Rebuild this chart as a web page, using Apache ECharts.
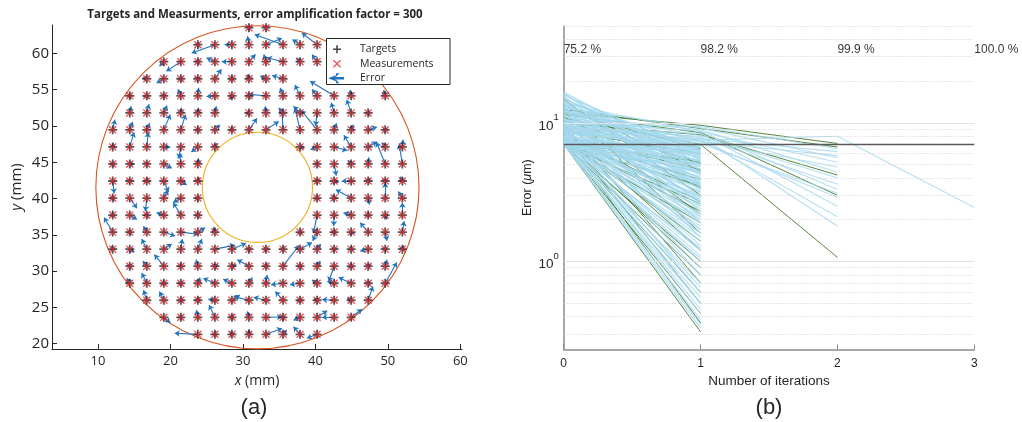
<!DOCTYPE html>
<html>
<head>
<meta charset="utf-8">
<script src="https://cdn.jsdelivr.net/npm/echarts@6/dist/echarts.min.js"></script>
<style>
html, body { margin: 0; padding: 0; background: #fff; }
#main { width: 1022px; height: 422px; }
</style>
</head>
<body>
<div id="main"></div>
<script>
// ---- panneau (a) : grille des cibles, en mm ----
var gridX = [12.03, 14.38, 16.73, 19.08, 21.43, 23.78, 26.13, 28.48, 30.83, 33.18, 35.53, 37.88, 40.23, 42.58, 44.93, 47.28, 49.63, 52.0];
var gridY = [21.29, 23.64, 25.99, 28.33, 30.68, 33.03, 35.38, 37.73, 40.07, 42.42, 44.77, 47.12, 49.47, 51.81, 54.16, 56.51, 58.86, 61.21, 63.55];

// colonnes presentes pour chaque ligne (de bas en haut)
var rowCols = [
	[5, 6, 7, 8, 9, 10, 11, 12],
	[3, 4, 5, 6, 7, 8, 9, 10, 11, 12, 13, 14],
	[2, 3, 4, 5, 6, 7, 8, 9, 10, 11, 12, 13, 14, 15],
	[1, 2, 3, 4, 5, 6, 7, 8, 9, 10, 11, 12, 13, 14, 15, 16],
	[1, 2, 3, 4, 5, 6, 7, 8, 9, 10, 11, 12, 13, 14, 15, 16],
	[0, 1, 2, 3, 4, 5, 6, 7, 8, 9, 10, 11, 12, 13, 14, 15, 16, 17],
	[0, 1, 2, 3, 4, 5, 6, 11, 12, 13, 14, 15, 16, 17],
	[0, 1, 2, 3, 4, 5, 12, 13, 14, 15, 16, 17],
	[0, 1, 2, 3, 4, 5, 12, 13, 14, 15, 16, 17],
	[0, 1, 2, 3, 4, 5, 12, 13, 14, 15, 16, 17],
	[0, 1, 2, 3, 4, 5, 12, 13, 14, 15, 16, 17],
	[0, 1, 2, 3, 4, 5, 6, 11, 12, 13, 14, 15, 16, 17],
	[0, 1, 2, 3, 4, 5, 6, 7, 8, 9, 10, 11, 12, 13, 14, 15, 16],
	[1, 2, 3, 4, 5, 6, 8, 9, 10, 11, 12, 13, 14, 15],
	[1, 2, 3, 4, 5, 6, 7, 8, 9, 10, 11, 12, 13, 14, 16],
	[2, 3, 4, 5, 6, 7, 8, 9, 10],
	[3, 4, 5, 6, 7, 8, 9, 10, 11, 12],
	[5, 6, 7, 8, 9, 10, 11, 12],
	[8, 9]
];

// erreur amplifiee (x300) pour chaque point, [dx, dy] en mm
var errRows = [
	[[-3.2, 0.15], [0.2, -0.3], [-0.3, 0.4], [0, 0.7], [2.2, 0.8], [0.5, 0.6], [-0.9, 1.05], [-1.4, -0.55]],
	[[0.9, -0.75], [0.2, 0.3], [-0.2, 1.0], [-0.8, 1.7], [0.1, -0.3], [-0.2, 0.8], [2.2, 0.05], [0.3, 0.2], [-0.9, -0.4], [1.4, 0.9], [-1.65, 0], [1.5, 1.1]],
	[[-0.45, 1.4], [-0.6, 1.2], [0.3, -0.3], [0.2, 0.4], [-0.9, 0.15], [1.1, 0.7], [-2.1, 0.5], [-1.7, 0.4], [-1.05, 1.2], [0.3, -0.2], [-0.4, 0.3], [-1.65, 0.1], [-0.55, 0.3], [0.65, 1.9]],
	[[-0.4, 0.7], [-0.7, 1.4], [0.3, -0.2], [0.2, 0.3], [0.3, 0.8], [-1.6, 0.7], [-1.2, 0.55], [0.45, 0.8], [0.15, 1.15], [-1.65, -0.2], [-1.4, -0.2], [-0.7, 0.45], [-0.95, 0.25], [-1.7, 0.8], [0.3, 0.3], [1.6, 2.85]],
	[[0.3, 0.3], [-0.55, 0.7], [-1.3, 1.6], [0.2, -0.2], [-0.25, 0.9], [0.4, 0.3], [0.6, 0.2], [-1.6, 0.9], [0.2, -0.3], [2.2, 2.85], [0.2, 0.3], [0.45, 0.7], [-0.75, -2.1], [0.3, -0.2], [0.4, 0.3], [0.25, 0.9]],
	[[-0.2, 0.4], [0.65, -0.4], [-0.7, 1.4], [1.1, 0.7], [0.2, 1.4], [0.55, 1.4], [2.75, 0.55], [1.95, 0.8], [0.3, 0.2], [-0.2, 0.3], [0.2, -0.3], [1.65, 0.9], [0.5, 0.7], [-0.3, 0.2], [0.1, 0.4], [-1.1, -0.25], [0.3, 0.2], [0.2, 0.5]],
	[[-1.2, 2.0], [0.2, 0.3], [-0.45, 0.8], [1.55, -0.55], [2.4, -0.3], [1.0, 0.6], [-0.2, 0.7], [0.3, -0.3], [-0.6, -1.2], [0.2, 0.3], [-0.1, 0.2], [-1.1, 1.3], [0.25, -1.2], [0.25, 1.5]],
	[[0.3, -0.2], [1.0, -0.6], [0.2, 0.3], [-1.0, 0.3], [-1.05, 1.7], [0.2, 0.3], [-0.5, -2.5], [-0.05, -1.5], [-1.05, 0.3], [0.3, -0.2], [0.25, -0.6], [0, 1.7]],
	[[0.2, 0.3], [1.0, -1.4], [-0.2, -1.8], [0.6, 1.1], [-1.05, -0.6], [0.2, 0.2], [0.3, -0.2], [-0.2, 0.4], [-2.1, 1.15], [0.2, -0.9], [0, 2.1], [-0.55, 0.9]],
	[[0.2, -1.7], [0.3, 0.2], [0, 0.4], [0.65, -1.5], [0.8, -0.55], [0.2, 0.5], [-0.3, 0.3], [0.6, -0.2], [-1.3, 0], [0.3, 0.4], [0, -0.3], [-0.3, 0.6]],
	[[0.2, 0.3], [0.7, 0], [0.3, 0.2], [1.1, -0.6], [-0.15, 1.5], [0.1, 0.8], [0.2, 0.3], [0.3, -1.6], [-0.4, 0.5], [0.1, 0.9], [-1.2, 3.0], [-0.45, 2.7]],
	[[0.1, 0.5], [0.6, 2.0], [0.2, 2.0], [0.9, 0], [-0.3, -1.6], [-0.9, -0.7], [0.3, 0.5], [0.6, -0.2], [-0.9, -0.4], [1.8, -0.5], [-1.0, 1.6], [1.2, 0.7], [-0.4, 0.6], [0.1, 1.0]],
	[[0.3, 1.4], [0.4, 1.1], [0.4, 0.9], [0.9, 2.1], [0.65, 2.1], [0.2, 0.3], [0.7, 0.7], [0.2, -0.2], [1.1, 1.6], [1.75, 1.15], [-0.15, 2.8], [-0.7, 3.0], [-2.2, 2.7], [0.35, 0.9], [0.3, 0.7], [1.2, 0.4], [-0.3, 0.3]],
	[[0.2, 0.9], [0.3, 1.2], [0.45, 1.0], [0.1, 0.7], [0.1, 0.7], [0.2, 0.9], [-0.5, 0], [-0.1, 0.9], [-0.6, 0.7], [-0.9, 0.9], [-0.2, -1.8], [-0.4, 1.4], [-0.6, 1.8], [0.2, 0.3]],
	[[0.2, 0.3], [0.1, 0.3], [0.3, 0.2], [-0.4, 0.9], [0.1, 1.1], [-1.15, -0.1], [-0.3, -0.5], [0.2, 0.3], [-2.4, 0.2], [-0.4, 1.1], [-0.7, 1.5], [-0.7, 0.9], [-3.3, 2.0], [-0.15, 0.8], [-0.2, 0.8]],
	[[-0.6, 0.1], [-1.0, -0.6], [0.2, 0.3], [0.3, 0.2], [0.9, 1.3], [0.3, -0.2], [-0.2, 0.6], [-0.8, 0.4], [-1.5, 0.45]],
	[[-0.6, -0.6], [-2.0, -1.3], [0.2, 0.3], [-1.15, 0.55], [-1.4, 0], [0.9, 1.0], [-0.3, 1.0], [-2.2, 0.55], [-0.5, 0.55], [-0.7, 1.0]],
	[[0.2, 0.3], [-3.2, -1.15], [-1.0, 0], [-0.2, 1.15], [2.2, 0.9], [-3.9, 1.4], [-1.05, 0.7], [-2.1, 1.6]],
	[[0, -0.4], [0.3, 0.2]]
];

var circleCenter = [32.0, 41.55];
var circleRadii = [22.3, 7.6];
var xTicksA = [10, 20, 30, 40, 50, 60];
var yTicksA = [20, 25, 30, 35, 40, 45, 50, 55, 60];

// ---- panneau (b) : erreur par iteration, [debut, fin] en um ----
var blueIt01 = [
	[16.7, 5.0], [16.2, 4.2], [15.8, 6.1], [15.4, 3.3], [15.0, 5.4], [14.6, 2.6], [14.3, 6.6], [14.0, 4.8], [13.8, 8.6], [13.6, 3.9],
	[13.3, 7.3], [13.0, 5.8], [12.8, 9.2], [12.7, 2.1], [12.4, 6.9], [12.2, 4.4], [11.9, 8.1], [11.6, 3.1], [11.4, 5.2], [11.3, 8.9],
	[11.1, 7.6], [10.9, 1.7], [10.7, 6.3], [10.6, 7.8], [10.5, 4.0], [10.3, 8.7], [10.1, 2.8], [10.0, 7.3], [9.9, 5.6], [9.8, 9.4],
	[9.7, 7.1], [9.6, 3.6], [9.5, 7.5], [9.4, 1.3], [9.3, 6.0], [9.2, 8.4], [9.1, 4.6], [9.0, 8.0], [8.9, 2.4], [8.8, 5.0],
	[8.7, 7.7], [8.6, 0.9], [8.5, 6.6], [8.4, 3.2], [8.3, 7.4], [8.2, 1.9], [8.1, 4.3], [8.0, 5.7],
	[7.9, 0.65], [7.85, 2.2], [7.8, 3.8], [7.7, 6.2], [7.65, 1.1], [7.6, 4.9], [7.5, 0.45], [7.45, 2.9], [7.4, 6.8], [7.35, 1.5],
	[7.3, 3.4], [7.25, 0.8], [7.2, 5.4], [7.15, 2.5], [7.12, 0.55], [7.1, 4.1], [7.08, 1.25], [7.05, 6.4], [7.03, 0.38], [7.02, 3.0],
	[7.01, 1.8], [7.0, 0.33], [7.0, 2.0], [7.0, 4.5], [7.0, 1.05], [7.0, 0.7],
	[16.4, 3.6], [16.0, 5.6], [15.6, 2.9], [15.2, 4.6], [14.8, 6.4], [14.4, 3.5], [14.1, 2.3], [13.9, 5.2], [13.5, 6.3], [13.2, 1.9],
	[12.9, 3.7], [12.6, 5.5], [12.3, 2.7], [12.0, 6.8], [11.8, 1.5], [11.5, 4.2], [11.2, 6.0], [11.0, 2.5], [10.8, 3.5], [10.6, 5.0],
	[10.4, 1.2], [10.2, 6.7], [10.0, 3.3], [9.85, 4.4], [9.75, 2.0], [9.65, 5.3], [9.55, 0.8], [9.45, 6.3], [9.35, 2.9], [9.25, 4.0],
	[9.15, 1.6], [9.05, 5.9], [8.95, 3.5], [8.85, 0.6], [8.75, 4.8], [8.65, 2.2], [8.55, 6.9], [8.45, 1.4], [8.35, 3.9], [8.25, 5.3],
	[8.15, 0.5], [8.05, 2.6], [7.95, 4.4], [7.88, 1.0], [7.82, 5.9], [7.75, 2.7], [7.68, 0.42], [7.62, 3.2], [7.55, 1.7], [7.48, 5.0],
	[7.42, 0.6], [7.38, 3.7], [7.32, 2.1], [7.28, 6.0], [7.22, 1.2], [7.18, 4.4], [7.14, 0.35], [7.1, 2.8], [7.06, 5.0], [7.04, 1.6],
	[7.02, 0.5], [7.01, 3.6]
];
var greenIt01 = [
	[14.8, 3.0], [13.5, 4.5], [12.9, 1.6], [12.5, 9.1], [12.0, 6.5], [11.8, 9.6], [11.5, 8.5], [11.2, 2.2], [10.8, 7.0], [10.4, 5.1],
	[9.9, 8.2], [9.8, 0.7], [9.5, 3.4], [9.0, 1.2], [8.7, 6.0], [8.4, 0.5], [8.2, 2.7], [8.0, 4.6], [7.9, 0.36], [7.7, 1.4],
	[7.6, 3.9], [7.5, 0.9], [7.4, 2.3], [7.3, 0.6], [7.2, 5.2], [7.1, 1.9], [7.05, 0.42], [7.02, 0.31], [7.0, 3.5], [7.0, 1.0],
	[7.0, 0.8], [7.0, 2.6]
];
var blueIt12 = [
	[9.4, 6.5], [9.2, 5.6], [8.9, 4.4], [8.7, 3.3], [8.6, 5.2], [8.4, 2.5], [8.1, 4.0], [8.0, 1.8], [7.8, 3.6], [7.7, 6.2],
	[7.6, 2.1], [7.5, 8.0], [7.4, 4.8], [7.3, 2.9], [7.3, 5.8], [7.1, 3.1]
];
var greenIt12 = [[9.6, 7.1], [9.1, 6.7], [8.5, 3.0], [8.2, 4.2], [7.0, 1.07]];
var blueIt23 = [[8.0, 2.45]];

var convPct = ['75.2 %', '98.2 %', '99.9 %', '100.0 %'];
var iterTicks = [0, 1, 2, 3];
var thresholdErr = 7.0;
var majorGrid = [1, 10];
var minorGrid = [0.3, 0.4, 0.5, 0.6, 0.7, 0.8, 0.9, 2, 3, 4, 5, 6, 7, 8, 9, 20, 30, 40, 50];

// ---- construction des donnees ----
var targets = [];
var arrows = [];
for (var j = 0; j < rowCols.length; j++) {
	for (var k = 0; k < rowCols[j].length; k++) {
		var px = gridX[rowCols[j][k]];
		var py = gridY[j];
		var e = errRows[j][k] || [0, 0];
		targets.push([px, py]);
		arrows.push({ coords: [[px, py], [px + e[0], py + e[1]]] });
	}
}

function segments(pairs, x0) {
	return pairs.map(function(p) {
		return { coords: [[x0, p[0]], [x0 + 1, p[1]]] };
	});
}

var plusPath = 'path://M-0.2,-1L0.2,-1L0.2,-0.2L1,-0.2L1,0.2L0.2,0.2L0.2,1L-0.2,1L-0.2,0.2L-1,0.2L-1,-0.2L-0.2,-0.2Z';
var crossPath = 'path://M-1,-0.76L-0.76,-1L0,-0.24L0.76,-1L1,-0.76L0.24,0L1,0.76L0.76,1L0,0.24L-0.76,1L-1,0.76L-0.24,0Z';
var arrowPath = 'path://M0,0L3.2,-1.2L2.6,-0.2L12,-0.2L12,0.2L2.6,0.2L3.2,1.2Z M6,-4L6.02,-4L6,-3.98Z M6,4L6.02,4L6,3.98Z';

var fontA = '"Open Sans", sans-serif';
var fontB = '"Liberation Sans", Arial, sans-serif';
var ink = '#262626';

var myChart = echarts.init(document.getElementById('main'), null, { renderer: 'canvas' });

var gridLines = [];
majorGrid.forEach(function(v) {
	gridLines.push({ yAxis: v, lineStyle: { color: '#e2e2e2', width: 1, type: 'solid' } });
});
minorGrid.forEach(function(v) {
	gridLines.push({ yAxis: v, lineStyle: { color: '#cfcfcf', width: 1, type: [1, 2] } });
});
gridLines.push({ yAxis: thresholdErr, lineStyle: { color: '#595959', width: 1.3, type: 'solid' } });

var option = {
	animation: false,
	backgroundColor: '#ffffff',
	grid: [
		{ left: 52, top: 25, width: 410, height: 324 },
		{ left: 563.7, top: 26, width: 410.6, height: 323.3 }
	],
	xAxis: [{
		gridIndex: 0,
		type: 'value',
		min: 3.65,
		max: 60.23,
		axisLine: { lineStyle: { color: ink, width: 1 } },
		axisTick: { inside: true, length: 5, customValues: xTicksA, lineStyle: { color: ink } },
		axisLabel: { customValues: xTicksA, fontSize: 13, fontFamily: fontA, color: ink, margin: 6 },
		splitLine: { show: false },
		name: '{i|x} (mm)',
		nameLocation: 'middle',
		nameGap: 25,
		nameTextStyle: {
			fontSize: 14, fontFamily: fontA, color: ink,
			rich: { i: { fontStyle: 'italic', fontSize: 14, fontFamily: fontA, color: ink } }
		}
	}, {
		gridIndex: 1,
		type: 'value',
		min: 0,
		max: 3,
		interval: 1,
		axisLine: { lineStyle: { color: '#8c8c8c', width: 1.5 } },
		axisTick: { inside: true, length: 5, lineStyle: { color: '#8c8c8c' } },
		axisLabel: { fontSize: 12, fontFamily: fontB, color: ink, margin: 8 },
		splitLine: { show: false },
		name: 'Number of iterations',
		nameLocation: 'middle',
		nameGap: 25,
		nameTextStyle: { fontSize: 13.5, fontFamily: fontB, color: ink }
	}],
	yAxis: [{
		gridIndex: 0,
		type: 'value',
		min: 19.27,
		max: 63.92,
		axisLine: { show: true, lineStyle: { color: ink, width: 1 } },
		axisTick: { show: true, inside: true, length: 5, customValues: yTicksA, lineStyle: { color: ink } },
		axisLabel: { customValues: yTicksA, fontSize: 15, fontFamily: fontA, color: ink, margin: 3 },
		splitLine: { show: false },
		name: '{i|y} (mm)',
		nameLocation: 'middle',
		nameGap: 28,
		nameTextStyle: {
			fontSize: 15, fontFamily: fontA, color: ink,
			rich: { i: { fontStyle: 'italic', fontSize: 15, fontFamily: fontA, color: ink } }
		}
	}, {
		gridIndex: 1,
		type: 'log',
		logBase: 10,
		min: 0.232,
		max: 50,
		axisLine: { show: true, lineStyle: { color: '#8c8c8c', width: 1.5 } },
		axisTick: { show: true, inside: true, length: 5, lineStyle: { color: '#8c8c8c' } },
		axisLabel: {
			showMinLabel: false,
			showMaxLabel: false,
			margin: 5,
			formatter: function(v) {
				if (Math.abs(v - 1) < 1e-6) return '{b|10}{s|0}';
				if (Math.abs(v - 10) < 1e-5) return '{b|10}{s|1}';
				return '';
			},
			rich: {
				b: { fontSize: 13.5, fontFamily: fontB, color: ink, lineHeight: 20, verticalAlign: 'bottom' },
				s: { fontSize: 9.5, fontFamily: fontB, color: ink, lineHeight: 20, verticalAlign: 'top' }
			}
		},
		splitLine: { show: false },
		name: '{n|Error (}{i|μ}{n|m)}',
		nameLocation: 'middle',
		nameGap: 17,
		nameTextStyle: {
			rich: {
				n: { fontSize: 12.5, fontFamily: fontB, color: ink },
				i: { fontSize: 12.5, fontFamily: fontB, color: ink, fontStyle: 'italic' }
			}
		}
	}],
	legend: {
		orient: 'vertical',
		left: 330,
		top: 42,
		padding: 0,
		itemGap: 0,
		itemWidth: 36,
		itemHeight: 8,
		selectedMode: false,
		z: 6,
		textStyle: { fontSize: 10.5, fontFamily: fontA, color: ink, lineHeight: 14.5 },
		data: [
			{ name: 'Targets', icon: plusPath, itemStyle: { color: '#1a1a1a' } },
			{ name: 'Measurements', icon: crossPath, itemStyle: { color: '#ee2a33' } },
			{ name: 'Error', icon: arrowPath, itemStyle: { color: '#1f74bd' } }
		]
	},
	graphic: [
		{
			type: 'rect', z: 4,
			shape: { x: 326.5, y: 38.5, width: 123.5, height: 46 },
			style: { fill: '#ffffff', stroke: ink, lineWidth: 1 }
		},
		{
			type: 'text', x: 255, y: 15,
			style: {
				text: 'Targets and Measurments, error amplification factor = 300',
				fontSize: 11.5, fontWeight: 'bold', fontFamily: fontA, fill: ink,
				align: 'center', verticalAlign: 'middle'
			}
		},
		{
			type: 'text', x: 254, y: 408,
			style: { text: '(a)', fontSize: 22, fontFamily: fontB, fill: ink, align: 'center', verticalAlign: 'middle' }
		},
		{
			type: 'text', x: 769, y: 408,
			style: { text: '(b)', fontSize: 22, fontFamily: fontB, fill: ink, align: 'center', verticalAlign: 'middle' }
		}
	],
	series: [
		// cercles interieur et exterieur
		{
			type: 'custom',
			name: 'rings',
			xAxisIndex: 0,
			yAxisIndex: 0,
			silent: true,
			data: circleRadii.map(function(r) { return [circleCenter[0], circleCenter[1], r]; }),
			renderItem: function(params, api) {
				var c = api.coord([api.value(0), api.value(1)]);
				var r = api.size([api.value(2), 0])[0];
				return {
					type: 'circle',
					shape: { cx: c[0], cy: c[1], r: r },
					style: { fill: 'none', stroke: params.dataIndex === 0 ? '#d9541f' : '#edb120', lineWidth: 1.1 }
				};
			}
		},
		{
			type: 'scatter',
			name: 'Targets',
			xAxisIndex: 0,
			yAxisIndex: 0,
			symbol: plusPath,
			symbolSize: 9,
			itemStyle: { color: '#2b2b2b' },
			data: targets
		},
		{
			type: 'scatter',
			name: 'Measurements',
			xAxisIndex: 0,
			yAxisIndex: 0,
			symbol: crossPath,
			symbolSize: 8,
			itemStyle: { color: '#e8202a' },
			data: targets
		},
		{
			type: 'lines',
			name: 'Error',
			coordinateSystem: 'cartesian2d',
			xAxisIndex: 0,
			yAxisIndex: 0,
			symbol: ['none', 'arrow'],
			symbolSize: 5,
			lineStyle: { color: '#1f74bd', width: 1.1, opacity: 1 },
			itemStyle: { color: '#1f74bd' },
			data: arrows
		},
		// panneau (b)
		{
			type: 'line',
			name: 'grid',
			xAxisIndex: 1,
			yAxisIndex: 1,
			data: [],
			silent: true,
			markLine: { symbol: 'none', label: { show: false }, silent: true, animation: false, data: gridLines }
		},
		{
			type: 'lines',
			name: 'green01',
			coordinateSystem: 'cartesian2d',
			xAxisIndex: 1,
			yAxisIndex: 1,
			silent: true,
			lineStyle: { color: '#44792b', width: 1, opacity: 0.9 },
			data: segments(greenIt01, 0).concat(segments(greenIt12, 1))
		},
		{
			type: 'lines',
			name: 'blue01',
			coordinateSystem: 'cartesian2d',
			xAxisIndex: 1,
			yAxisIndex: 1,
			silent: true,
			lineStyle: { color: '#a2d8ef', width: 1.1, opacity: 0.8 },
			data: segments(blueIt01, 0).concat(segments(blueIt12, 1), segments(blueIt23, 2))
		},
		{
			type: 'scatter',
			name: 'pct',
			xAxisIndex: 1,
			yAxisIndex: 1,
			silent: true,
			symbolSize: 0,
			data: iterTicks.map(function(i) { return [i, 33.5]; }),
			label: {
				show: true,
				position: [0, 0],
				align: 'left',
				verticalAlign: 'middle',
				fontSize: 12,
				fontFamily: fontB,
				color: '#000000',
				formatter: function(p) { return convPct[p.dataIndex]; }
			}
		}
	]
};

myChart.setOption(option);
</script>
</body>
</html>
